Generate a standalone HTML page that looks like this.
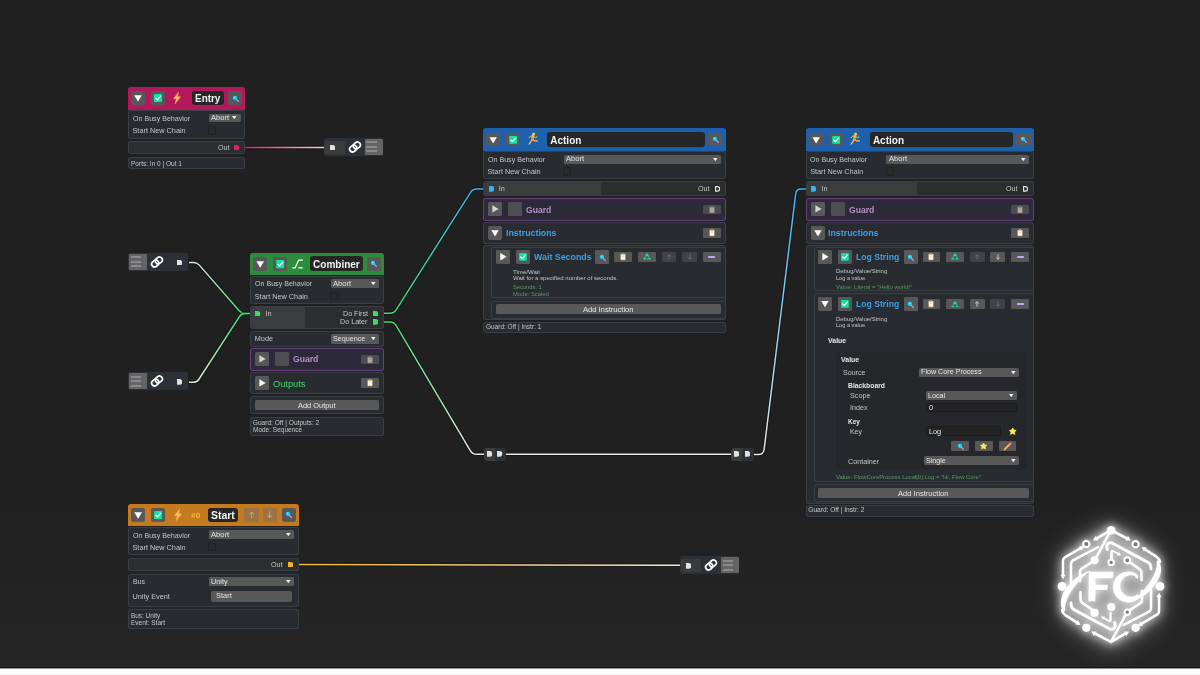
<!DOCTYPE html>
<html><head><meta charset="utf-8"><title>Flow Core Graph</title><style>html,body{margin:0;padding:0}
body{width:1200px;height:675px;overflow:hidden;position:relative;background:#202020;font-family:"Liberation Sans",sans-serif;}
div,svg{position:absolute;}
.t{white-space:nowrap;}
#stage{left:0;top:0;width:1200px;height:675px;will-change:transform;}</style></head><body><div id="stage">
<div style="left:0;top:470px;width:1200px;height:198px;background:linear-gradient(to bottom,rgba(255,255,255,0),rgba(255,255,255,0.028));"></div>
<svg style="left:0;top:0" width="1200" height="675"><defs><linearGradient id="g0" gradientUnits="userSpaceOnUse" x1="245" y1="147.5" x2="324" y2="147.5"><stop offset="0" stop-color="#e0206a"/><stop offset="1" stop-color="#f3d3df"/></linearGradient><linearGradient id="g1" gradientUnits="userSpaceOnUse" x1="189" y1="262.5" x2="250" y2="313.4"><stop offset="0" stop-color="#e4ece6"/><stop offset="1" stop-color="#3ddc6a"/></linearGradient><linearGradient id="g2" gradientUnits="userSpaceOnUse" x1="189" y1="382.2" x2="250" y2="313.4"><stop offset="0" stop-color="#e4ece6"/><stop offset="1" stop-color="#3ddc6a"/></linearGradient><linearGradient id="g3" gradientUnits="userSpaceOnUse" x1="384" y1="313.2" x2="483.2" y2="188.9"><stop offset="0" stop-color="#3ddc6a"/><stop offset="1" stop-color="#38b2f4"/></linearGradient><linearGradient id="g4" gradientUnits="userSpaceOnUse" x1="384" y1="322" x2="484" y2="454.3"><stop offset="0" stop-color="#3ddc6a"/><stop offset="1" stop-color="#e8e8e8"/></linearGradient><linearGradient id="g5" gradientUnits="userSpaceOnUse" x1="506" y1="454.35" x2="731.2" y2="454.35"><stop offset="0" stop-color="#e8e8e8"/><stop offset="1" stop-color="#e8e8e8"/></linearGradient><linearGradient id="g6" gradientUnits="userSpaceOnUse" x1="753.6" y1="454.4" x2="806" y2="188.9"><stop offset="0" stop-color="#e8e8e8"/><stop offset="1" stop-color="#38b2f4"/></linearGradient><linearGradient id="g7" gradientUnits="userSpaceOnUse" x1="299" y1="564.5" x2="680" y2="565.2"><stop offset="0" stop-color="#f2b42a"/><stop offset="1" stop-color="#f0ead8"/></linearGradient></defs><path d="M245.00 147.50 L324.00 147.50" stroke="#0d0d0d" stroke-opacity="0.55" stroke-width="3.3" fill="none"/><path d="M245.00 147.50 L324.00 147.50" stroke="url(#g0)" stroke-width="1.5" fill="none" stroke-linecap="butt"/><path d="M189.00 262.50 L193.50 262.50 Q197.00 262.50 199.30 265.13 L239.20 310.77 Q241.50 313.40 245.00 313.40 L250.00 313.40" stroke="#0d0d0d" stroke-opacity="0.55" stroke-width="3.3" fill="none"/><path d="M189.00 262.50 L193.50 262.50 Q197.00 262.50 199.30 265.13 L239.20 310.77 Q241.50 313.40 245.00 313.40 L250.00 313.40" stroke="url(#g1)" stroke-width="1.5" fill="none" stroke-linecap="butt"/><path d="M189.00 382.20 L193.50 382.20 Q197.00 382.20 198.90 379.26 L239.60 316.34 Q241.50 313.40 245.00 313.40 L250.00 313.40" stroke="#0d0d0d" stroke-opacity="0.55" stroke-width="3.3" fill="none"/><path d="M189.00 382.20 L193.50 382.20 Q197.00 382.20 198.90 379.26 L239.60 316.34 Q241.50 313.40 245.00 313.40 L250.00 313.40" stroke="url(#g2)" stroke-width="1.5" fill="none" stroke-linecap="butt"/><path d="M384.00 313.20 L390.00 313.20 Q394.00 313.20 396.14 309.82 L470.56 192.28 Q472.70 188.90 476.70 188.90 L483.20 188.90" stroke="#0d0d0d" stroke-opacity="0.55" stroke-width="3.3" fill="none"/><path d="M384.00 313.20 L390.00 313.20 Q394.00 313.20 396.14 309.82 L470.56 192.28 Q472.70 188.90 476.70 188.90 L483.20 188.90" stroke="url(#g3)" stroke-width="1.5" fill="none" stroke-linecap="butt"/><path d="M384.00 322.00 L390.00 322.00 Q394.00 322.00 396.04 325.44 L470.46 450.86 Q472.50 454.30 476.50 454.30 L484.00 454.30" stroke="#0d0d0d" stroke-opacity="0.55" stroke-width="3.3" fill="none"/><path d="M384.00 322.00 L390.00 322.00 Q394.00 322.00 396.04 325.44 L470.46 450.86 Q472.50 454.30 476.50 454.30 L484.00 454.30" stroke="url(#g4)" stroke-width="1.5" fill="none" stroke-linecap="butt"/><path d="M506.00 454.35 L731.20 454.35" stroke="#0d0d0d" stroke-opacity="0.55" stroke-width="3.3" fill="none"/><path d="M506.00 454.35 L731.20 454.35" stroke="url(#g5)" stroke-width="1.5" fill="none" stroke-linecap="butt"/><path d="M753.60 454.40 L758.55 454.40 Q763.50 454.40 764.11 449.49 L795.71 193.71 Q796.30 188.90 801.15 188.90 L806.00 188.90" stroke="#0d0d0d" stroke-opacity="0.55" stroke-width="3.3" fill="none"/><path d="M753.60 454.40 L758.55 454.40 Q763.50 454.40 764.11 449.49 L795.71 193.71 Q796.30 188.90 801.15 188.90 L806.00 188.90" stroke="url(#g6)" stroke-width="1.5" fill="none" stroke-linecap="butt"/><path d="M299.00 564.50 L680.00 565.20" stroke="#0d0d0d" stroke-opacity="0.55" stroke-width="3.3" fill="none"/><path d="M299.00 564.50 L680.00 565.20" stroke="url(#g7)" stroke-width="1.5" fill="none" stroke-linecap="butt"/></svg>
<div style="left:128.10px;top:87.00px;width:116.90px;height:22.60px;background:#b3175c;border-radius:3px 3px 0 0;"></div>
<div style="left:131.00px;top:91.25px;width:14.00px;height:14.00px;background:#585858;border-radius:2px;"></div>
<svg style="left:131.00px;top:91.25px;" width="14.00" height="14.00" viewBox="0 0 14 14"><path d="M3.2 4.2 L10.8 4.2 L7 10.6 Z" fill="#fff"/></svg>
<div style="left:151.25px;top:91.25px;width:14.00px;height:14.00px;background:#585858;border-radius:2px;"></div>
<svg style="left:151.25px;top:91.25px;" width="14.00" height="14.00" viewBox="0 0 14 14"><rect x="3" y="3" width="8" height="8" rx="0.8" fill="#10e3a2"/><path d="M4.7 7.2 L6.4 8.8 L9.4 5.2" stroke="#fff" stroke-width="1.2" fill="none" stroke-linecap="round" stroke-linejoin="round"/></svg>
<svg style="left:173.30px;top:92.20px;" width="8.00" height="12.00" viewBox="0 0 8 12"><path d="M5.6 0.2 L0.5 6.7 L3.4 6.7 L2.1 11.8 L7.6 4.8 L4.5 4.8 Z" fill="#ffbb5e" stroke="#ffbb5e" stroke-width="0.5" stroke-linejoin="round"/></svg>
<div style="left:192.25px;top:91.00px;width:31.80px;height:14.40px;background:#262626;border-radius:3px;"></div>
<div class="t" style="left:195.30px;top:91px;font-size:10px;line-height:15px;height:15px;color:#f2f2f2;font-weight:bold;transform:scaleX(0.9936);transform-origin:0 0;">Entry</div>
<div style="left:228.00px;top:91.25px;width:14.00px;height:14.00px;background:#585858;border-radius:2px;"></div>
<svg style="left:231.50px;top:94.85px;" width="7.40" height="7.40" viewBox="0 0 10 10"><path d="M5.6 5.6 L8.6 8.6" stroke="#c9a0e8" stroke-width="1.7" stroke-linecap="round"/><circle cx="4" cy="4" r="2.9" fill="#12d4ff"/><circle cx="3.3" cy="3.2" r="1" fill="#7be9ff"/></svg>
<div style="left:128.10px;top:110.00px;width:116.90px;height:28.50px;background:#282c31;box-shadow:inset 0 0 0 1px #3a3f46;border-radius:3px;"></div>
<div class="t" style="left:132.50px;top:112px;font-size:7.3px;line-height:13px;height:13px;color:#c6c6c6;transform:scaleX(0.9722);transform-origin:0 0;">On Busy Behavior</div>
<div class="t" style="left:132.50px;top:124px;font-size:7.3px;line-height:13px;height:13px;color:#c6c6c6;">Start New Chain</div>
<div style="left:208.75px;top:113.50px;width:31.85px;height:8.80px;background:#585858;border-radius:1.5px;"></div>
<div class="t" style="left:210.95px;top:111px;font-size:7.4px;line-height:13px;height:13px;color:#e6e6e6;transform:scaleX(1.0233);transform-origin:0 0;">Abort</div>
<svg style="left:232.40px;top:116.30px;" width="4.60" height="3.20" viewBox="0 0 4.6 3.2"><path d="M0 0 L4.6 0 L2.3 3.2 Z" fill="#f0f0f0"/></svg>
<div style="left:208.00px;top:126.25px;width:8.30px;height:8.30px;background:#2a2a2a;box-shadow:inset 0 0 0 1px #222;border-radius:1.5px;"></div>
<div style="left:128.10px;top:140.60px;width:116.90px;height:13.80px;background:#2b2d2f;box-shadow:inset 0 0 0 1px #3a3f46;border-radius:3px;"></div>
<div class="t" style="left:217.50px;top:141px;font-size:7.3px;line-height:13px;height:13px;color:#c6c6c6;transform:scaleX(0.9774);transform-origin:0 0;">Out</div>
<svg style="left:234.40px;top:144.75px;" width="5.30" height="5.70" viewBox="0 0 5.3 5.7"><path d="M0 0 L2.45 0 A2.85 2.85 0 0 1 2.45 5.7 L0 5.7 Z" fill="#e0206a"/></svg>
<div style="left:128.10px;top:157.00px;width:116.90px;height:12.00px;background:#282c31;box-shadow:inset 0 0 0 1px #3a3f46;border-radius:3px;"></div>
<div class="t" style="left:130.50px;top:158px;font-size:6.6px;line-height:11px;height:11px;color:#c6c6c6;transform:scaleX(0.9883);transform-origin:0 0;">Ports: In 0 | Out 1</div>
<div style="left:250.00px;top:252.50px;width:133.75px;height:22.80px;background:#2d8c3c;border-radius:3px 3px 0 0;"></div>
<div style="left:252.70px;top:256.50px;width:14.40px;height:14.20px;background:#585858;border-radius:2px;"></div>
<svg style="left:252.70px;top:256.50px;" width="14.40" height="14.20" viewBox="0 0 14 14"><path d="M3.2 4.2 L10.8 4.2 L7 10.6 Z" fill="#fff"/></svg>
<div style="left:272.80px;top:256.50px;width:14.40px;height:14.20px;background:#585858;border-radius:2px;"></div>
<svg style="left:272.80px;top:256.50px;" width="14.40" height="14.20" viewBox="0 0 14 14"><rect x="3" y="3" width="8" height="8" rx="0.8" fill="#10e3a2"/><path d="M4.7 7.2 L6.4 8.8 L9.4 5.2" stroke="#fff" stroke-width="1.2" fill="none" stroke-linecap="round" stroke-linejoin="round"/></svg>
<svg style="left:291.70px;top:258.60px;" width="11.00" height="10.00" viewBox="0 0 11 10"><path d="M0.7 8.8 L3.2 8.8 L6.6 1.2 L10.3 1.2 M6.8 8.8 L10.3 8.8" stroke="#fff" stroke-width="1.2" fill="none" stroke-linecap="round" stroke-linejoin="round"/></svg>
<div style="left:309.75px;top:256.25px;width:53.00px;height:14.40px;background:#262626;border-radius:3px;"></div>
<div class="t" style="left:313.10px;top:257px;font-size:10px;line-height:15px;height:15px;color:#f2f2f2;font-weight:bold;">Combiner</div>
<div style="left:366.50px;top:256.50px;width:14.40px;height:14.20px;background:#585858;border-radius:2px;"></div>
<svg style="left:370.20px;top:260.20px;" width="7.40" height="7.40" viewBox="0 0 10 10"><path d="M5.6 5.6 L8.6 8.6" stroke="#c9a0e8" stroke-width="1.7" stroke-linecap="round"/><circle cx="4" cy="4" r="2.9" fill="#12d4ff"/><circle cx="3.3" cy="3.2" r="1" fill="#7be9ff"/></svg>
<div style="left:250.00px;top:275.60px;width:133.75px;height:28.00px;background:#282c31;box-shadow:inset 0 0 0 1px #3a3f46;border-radius:3px;"></div>
<div class="t" style="left:254.75px;top:277px;font-size:7.3px;line-height:13px;height:13px;color:#c6c6c6;transform:scaleX(0.9722);transform-origin:0 0;">On Busy Behavior</div>
<div class="t" style="left:254.75px;top:290px;font-size:7.3px;line-height:13px;height:13px;color:#c6c6c6;">Start New Chain</div>
<div style="left:330.60px;top:278.90px;width:48.80px;height:8.80px;background:#585858;border-radius:1.5px;"></div>
<div class="t" style="left:332.80px;top:277px;font-size:7.4px;line-height:13px;height:13px;color:#e6e6e6;transform:scaleX(1.0233);transform-origin:0 0;">Abort</div>
<svg style="left:371.20px;top:281.70px;" width="4.60" height="3.20" viewBox="0 0 4.6 3.2"><path d="M0 0 L4.6 0 L2.3 3.2 Z" fill="#f0f0f0"/></svg>
<div style="left:330.25px;top:292.00px;width:8.30px;height:8.30px;background:#2a2a2a;box-shadow:inset 0 0 0 1px #222;border-radius:1.5px;"></div>
<div style="left:250.00px;top:306.00px;width:133.75px;height:23.00px;background:#2b2d2f;box-shadow:inset 0 0 0 1px #3a3f46;border-radius:3px;"></div>
<div style="left:250.80px;top:306.80px;width:54.50px;height:21.40px;background:#3a3c3d;border-radius:2px 0 0 2px;"></div>
<svg style="left:255.25px;top:310.55px;" width="5.30" height="5.70" viewBox="0 0 5.3 5.7"><path d="M0 0 L2.45 0 A2.85 2.85 0 0 1 2.45 5.7 L0 5.7 Z" fill="#3ddc6a"/></svg>
<div class="t" style="left:265.60px;top:307px;font-size:7.3px;line-height:13px;height:13px;color:#c6c6c6;">In</div>
<div class="t" style="left:342.50px;top:307px;font-size:7.3px;line-height:13px;height:13px;color:#c6c6c6;transform:scaleX(0.9785);transform-origin:0 0;">Do First</div>
<svg style="left:373.00px;top:310.55px;" width="5.30" height="5.70" viewBox="0 0 5.3 5.7"><path d="M0 0 L2.45 0 A2.85 2.85 0 0 1 2.45 5.7 L0 5.7 Z" fill="#3ddc6a"/></svg>
<div class="t" style="left:340.00px;top:315px;font-size:7.3px;line-height:13px;height:13px;color:#c6c6c6;transform:scaleX(0.9822);transform-origin:0 0;">Do Later</div>
<svg style="left:373.00px;top:319.15px;" width="5.30" height="5.70" viewBox="0 0 5.3 5.7"><path d="M0 0 L2.45 0 A2.85 2.85 0 0 1 2.45 5.7 L0 5.7 Z" fill="#3ddc6a"/></svg>
<div style="left:250.00px;top:331.25px;width:133.75px;height:15.70px;background:#282c31;box-shadow:inset 0 0 0 1px #3a3f46;border-radius:3px;"></div>
<div class="t" style="left:254.75px;top:332px;font-size:7.3px;line-height:13px;height:13px;color:#c6c6c6;">Mode</div>
<div style="left:330.60px;top:334.40px;width:48.80px;height:9.30px;background:#585858;border-radius:1.5px;"></div>
<div class="t" style="left:332.80px;top:332px;font-size:7.4px;line-height:13px;height:13px;color:#e6e6e6;transform:scaleX(0.9691);transform-origin:0 0;">Sequence</div>
<svg style="left:371.20px;top:337.45px;" width="4.60" height="3.20" viewBox="0 0 4.6 3.2"><path d="M0 0 L4.6 0 L2.3 3.2 Z" fill="#f0f0f0"/></svg>
<div style="left:250.00px;top:348.00px;width:133.75px;height:22.60px;background:#2c2938;box-shadow:inset 0 0 0 1px #6a3f80;border-radius:3px;"></div>
<div style="left:255.00px;top:352.30px;width:14.00px;height:13.75px;background:#585858;border-radius:1.5px;"></div>
<svg style="left:255.00px;top:352.30px;" width="14.00" height="13.75" viewBox="0 0 14 14"><path d="M4.3 3.2 L10.8 7 L4.3 10.8 Z" fill="#fff" opacity="0.75"/></svg>
<div style="left:275.00px;top:352.30px;width:14.00px;height:13.75px;background:#4e4e52;border-radius:1px;"></div>
<div class="t" style="left:292.75px;top:352px;font-size:9.2px;line-height:14px;height:14px;color:#b78fc6;font-weight:bold;transform:scaleX(0.9375);transform-origin:0 0;">Guard</div>
<div style="left:361.25px;top:354.50px;width:17.60px;height:9.70px;background:#4b4b52;border-radius:1.3px;"></div>
<svg style="left:367.05px;top:355.65px;" width="6.00" height="7.40" viewBox="0 0 6 7.4"><g opacity="0.55"><rect x="0.3" y="0.7" width="5.4" height="6.5" rx="0.6" fill="#c39a64"/><rect x="0.9" y="1.5" width="4.2" height="5.2" fill="#fdf6e6"/><rect x="1.9" y="0.1" width="2.2" height="1.6" rx="0.5" fill="#9aa4b0"/><rect x="1.8" y="2.9" width="2.4" height="0.7" fill="#c9cfe0"/></g></svg>
<div style="left:250.00px;top:372.00px;width:133.75px;height:21.50px;background:#282c31;box-shadow:inset 0 0 0 1px #3a3f46;border-radius:3px;"></div>
<div style="left:255.00px;top:376.25px;width:14.00px;height:13.75px;background:#585858;border-radius:1.5px;"></div>
<svg style="left:255.00px;top:376.25px;" width="14.00" height="13.75" viewBox="0 0 14 14"><path d="M4.3 3.2 L10.8 7 L4.3 10.8 Z" fill="#fff" opacity="1"/></svg>
<div class="t" style="left:272.75px;top:377px;font-size:9.2px;line-height:14px;height:14px;color:#3ddc6a;transform:scaleX(1.0088);transform-origin:0 0;">Outputs</div>
<div style="left:361.25px;top:378.40px;width:17.75px;height:9.50px;background:#585858;border-radius:1.3px;"></div>
<svg style="left:367.12px;top:379.45px;" width="6.00" height="7.40" viewBox="0 0 6 7.4"><g opacity="1"><rect x="0.3" y="0.7" width="5.4" height="6.5" rx="0.6" fill="#c39a64"/><rect x="0.9" y="1.5" width="4.2" height="5.2" fill="#fdf6e6"/><rect x="1.9" y="0.1" width="2.2" height="1.6" rx="0.5" fill="#9aa4b0"/><rect x="1.8" y="2.9" width="2.4" height="0.7" fill="#c9cfe0"/></g></svg>
<div style="left:250.00px;top:396.00px;width:133.75px;height:18.40px;background:#282c31;box-shadow:inset 0 0 0 1px #3a3f46;border-radius:3px;"></div>
<div style="left:255.00px;top:400.00px;width:124.00px;height:9.80px;background:#585858;border-radius:1.5px;"></div>
<div class="t" style="left:298.25px;top:399px;font-size:7.3px;line-height:13px;height:13px;color:#e6e6e6;transform:scaleX(1.0154);transform-origin:0 0;">Add Output</div>
<div style="left:250.00px;top:417.00px;width:133.75px;height:19.20px;background:#282c31;box-shadow:inset 0 0 0 1px #3a3f46;border-radius:3px;"></div>
<div class="t" style="left:252.75px;top:417px;font-size:6.6px;line-height:11px;height:11px;color:#c6c6c6;">Guard: Off | Outputs: 2</div>
<div class="t" style="left:252.75px;top:424px;font-size:6.6px;line-height:11px;height:11px;color:#c6c6c6;transform:scaleX(0.9839);transform-origin:0 0;">Mode: Sequence</div>
<div style="left:483.10px;top:128.10px;width:242.50px;height:22.70px;background:#1f60ad;border-radius:3px 3px 0 0;"></div>
<div style="left:486.00px;top:132.50px;width:14.30px;height:13.80px;background:#585858;border-radius:2px;"></div>
<svg style="left:486.00px;top:132.50px;" width="14.30" height="13.80" viewBox="0 0 14 14"><path d="M3.2 4.2 L10.8 4.2 L7 10.6 Z" fill="#fff"/></svg>
<div style="left:506.00px;top:132.50px;width:14.30px;height:13.80px;background:#585858;border-radius:2px;"></div>
<svg style="left:506.00px;top:132.50px;" width="14.30" height="13.80" viewBox="0 0 14 14"><rect x="3" y="3" width="8" height="8" rx="0.8" fill="#10e3a2"/><path d="M4.7 7.2 L6.4 8.8 L9.4 5.2" stroke="#fff" stroke-width="1.2" fill="none" stroke-linecap="round" stroke-linejoin="round"/></svg>
<svg style="left:526.60px;top:132.40px;" width="12.00" height="14.00" viewBox="0 0 12 14"><circle cx="6.6" cy="1.9" r="1.5" fill="#ffc83d"/>
<path d="M6.2 3.6 L5.1 7.4" stroke="#ffb13b" stroke-width="2.2" stroke-linecap="round"/>
<path d="M6 4 L3.4 4.2 L2.2 5.6 M6.3 4.2 L8.4 5.6 L9.8 5" stroke="#ffc83d" stroke-width="1" fill="none" stroke-linecap="round" stroke-linejoin="round"/>
<path d="M5.2 7.4 L3.9 9.6 L2.2 12.2 M5.3 7.4 L7.6 8.8 L10.4 8.9" stroke="#ffc83d" stroke-width="1.2" fill="none" stroke-linecap="round" stroke-linejoin="round"/>
<path d="M5 6.6 L5.8 8" stroke="#f08a5d" stroke-width="2" stroke-linecap="round"/></svg>
<div style="left:547.25px;top:132.25px;width:157.50px;height:14.30px;background:#262626;border-radius:3px;"></div>
<div class="t" style="left:550.25px;top:133px;font-size:10px;line-height:15px;height:15px;color:#f2f2f2;font-weight:bold;">Action</div>
<div style="left:708.00px;top:132.50px;width:14.40px;height:13.80px;background:#585858;border-radius:2px;"></div>
<svg style="left:711.70px;top:136.00px;" width="7.40" height="7.40" viewBox="0 0 10 10"><path d="M5.6 5.6 L8.6 8.6" stroke="#c9a0e8" stroke-width="1.7" stroke-linecap="round"/><circle cx="4" cy="4" r="2.9" fill="#12d4ff"/><circle cx="3.3" cy="3.2" r="1" fill="#7be9ff"/></svg>
<div style="left:483.10px;top:151.25px;width:242.50px;height:28.20px;background:#282c31;box-shadow:inset 0 0 0 1px #3a3f46;border-radius:3px;"></div>
<div class="t" style="left:487.50px;top:153px;font-size:7.3px;line-height:13px;height:13px;color:#c6c6c6;transform:scaleX(0.9722);transform-origin:0 0;">On Busy Behavior</div>
<div class="t" style="left:487.50px;top:165px;font-size:7.3px;line-height:13px;height:13px;color:#c6c6c6;">Start New Chain</div>
<div style="left:563.75px;top:154.75px;width:157.50px;height:8.80px;background:#585858;border-radius:1.5px;"></div>
<div class="t" style="left:565.95px;top:152px;font-size:7.4px;line-height:13px;height:13px;color:#e6e6e6;transform:scaleX(1.0233);transform-origin:0 0;">Abort</div>
<svg style="left:713.05px;top:157.55px;" width="4.60" height="3.20" viewBox="0 0 4.6 3.2"><path d="M0 0 L4.6 0 L2.3 3.2 Z" fill="#f0f0f0"/></svg>
<div style="left:563.00px;top:167.25px;width:8.30px;height:8.30px;background:#2a2a2a;box-shadow:inset 0 0 0 1px #222;border-radius:1.5px;"></div>
<div style="left:483.10px;top:181.25px;width:242.50px;height:14.80px;background:#2b2d2f;box-shadow:inset 0 0 0 1px #3a3f46;border-radius:3px;"></div>
<div style="left:483.90px;top:182.00px;width:117.35px;height:13.30px;background:#3a3c3d;border-radius:2px 0 0 2px;"></div>
<svg style="left:488.50px;top:185.90px;" width="5.30" height="5.70" viewBox="0 0 5.3 5.7"><path d="M0 0 L2.45 0 A2.85 2.85 0 0 1 2.45 5.7 L0 5.7 Z" fill="#38b2f4"/></svg>
<div class="t" style="left:498.75px;top:182px;font-size:7.3px;line-height:13px;height:13px;color:#c6c6c6;">In</div>
<div class="t" style="left:697.90px;top:182px;font-size:7.3px;line-height:13px;height:13px;color:#c6c6c6;transform:scaleX(0.9774);transform-origin:0 0;">Out</div>
<svg style="left:715.00px;top:185.90px;" width="5.30" height="5.70" viewBox="0 0 5.3 5.7"><path d="M0.6 0.6 L2.45 0.6 A2.25 2.25 0 0 1 2.45 5.10 L0.6 5.10 Z" fill="none" stroke="#e8e8e8" stroke-width="1.15"/></svg>
<div style="left:483.10px;top:198.10px;width:242.50px;height:22.50px;background:#2c2938;box-shadow:inset 0 0 0 1px #6a3f80;border-radius:3px;"></div>
<div style="left:488.10px;top:202.40px;width:14.00px;height:13.75px;background:#585858;border-radius:1.5px;"></div>
<svg style="left:488.10px;top:202.40px;" width="14.00" height="13.75" viewBox="0 0 14 14"><path d="M4.3 3.2 L10.8 7 L4.3 10.8 Z" fill="#fff" opacity="0.75"/></svg>
<div style="left:508.10px;top:202.40px;width:14.00px;height:13.75px;background:#4e4e52;border-radius:1px;"></div>
<div class="t" style="left:526.00px;top:203px;font-size:9.2px;line-height:14px;height:14px;color:#b78fc6;font-weight:bold;transform:scaleX(0.9375);transform-origin:0 0;">Guard</div>
<div style="left:703.10px;top:204.60px;width:17.60px;height:9.70px;background:#4b4b52;border-radius:1.3px;"></div>
<svg style="left:708.90px;top:205.75px;" width="6.00" height="7.40" viewBox="0 0 6 7.4"><g opacity="0.55"><rect x="0.3" y="0.7" width="5.4" height="6.5" rx="0.6" fill="#c39a64"/><rect x="0.9" y="1.5" width="4.2" height="5.2" fill="#fdf6e6"/><rect x="1.9" y="0.1" width="2.2" height="1.6" rx="0.5" fill="#9aa4b0"/><rect x="1.8" y="2.9" width="2.4" height="0.7" fill="#c9cfe0"/></g></svg>
<div style="left:483.10px;top:222.25px;width:242.50px;height:21.50px;background:#282c31;box-shadow:inset 0 0 0 1px #3a3f46;border-radius:3px;"></div>
<div style="left:488.00px;top:226.25px;width:14.00px;height:13.75px;background:#585858;border-radius:2px;"></div>
<svg style="left:488.00px;top:226.25px;" width="14.00" height="13.75" viewBox="0 0 14 14"><path d="M3.2 4.2 L10.8 4.2 L7 10.6 Z" fill="#fff"/></svg>
<div class="t" style="left:505.60px;top:226px;font-size:9.2px;line-height:14px;height:14px;color:#3d9fe6;font-weight:bold;transform:scaleX(0.9611);transform-origin:0 0;">Instructions</div>
<div style="left:703.10px;top:228.20px;width:17.60px;height:9.80px;background:#585858;border-radius:1.3px;"></div>
<svg style="left:708.90px;top:229.40px;" width="6.00" height="7.40" viewBox="0 0 6 7.4"><g opacity="1"><rect x="0.3" y="0.7" width="5.4" height="6.5" rx="0.6" fill="#c39a64"/><rect x="0.9" y="1.5" width="4.2" height="5.2" fill="#fdf6e6"/><rect x="1.9" y="0.1" width="2.2" height="1.6" rx="0.5" fill="#9aa4b0"/><rect x="1.8" y="2.9" width="2.4" height="0.7" fill="#c9cfe0"/></g></svg>
<div style="left:483.10px;top:244.60px;width:242.50px;height:75.60px;background:#282c31;box-shadow:inset 0 0 0 1px #3a3f46;border-radius:3px;"></div>
<div style="left:491.25px;top:246.90px;width:234.35px;height:51.10px;background:#282c31;box-shadow:inset 0 0 0 1px #3a3f46;border-radius:3px;"></div>
<div style="left:495.65px;top:250.25px;width:13.90px;height:13.60px;background:#585858;border-radius:1.3px;"></div>
<svg style="left:495.65px;top:250.25px;" width="13.90" height="13.60" viewBox="0 0 14 14"><path d="M4.3 3.2 L10.8 7 L4.3 10.8 Z" fill="#fff" opacity="1"/></svg>
<div style="left:515.75px;top:250.25px;width:13.90px;height:13.60px;background:#585858;border-radius:1.3px;"></div>
<svg style="left:515.75px;top:250.25px;" width="13.90" height="13.60" viewBox="0 0 14 14"><rect x="3" y="3" width="8" height="8" rx="0.8" fill="#10e3a2"/><path d="M4.7 7.2 L6.4 8.8 L9.4 5.2" stroke="#fff" stroke-width="1.2" fill="none" stroke-linecap="round" stroke-linejoin="round"/></svg>
<div class="t" style="left:533.50px;top:250px;font-size:9.2px;line-height:14px;height:14px;color:#3d9fe6;font-weight:bold;transform:scaleX(0.9628);transform-origin:0 0;">Wait Seconds</div>
<div style="left:595.40px;top:250.25px;width:14.00px;height:13.60px;background:#585858;border-radius:1.3px;"></div>
<svg style="left:598.90px;top:253.65px;" width="7.40" height="7.40" viewBox="0 0 10 10"><path d="M5.6 5.6 L8.6 8.6" stroke="#c9a0e8" stroke-width="1.7" stroke-linecap="round"/><circle cx="4" cy="4" r="2.9" fill="#12d4ff"/><circle cx="3.3" cy="3.2" r="1" fill="#7be9ff"/></svg>
<div style="left:614.40px;top:252.10px;width:17.50px;height:9.80px;background:#585858;border-radius:1.3px;"></div>
<svg style="left:620.15px;top:253.30px;" width="6.00" height="7.40" viewBox="0 0 6 7.4"><g opacity="1"><rect x="0.3" y="0.7" width="5.4" height="6.5" rx="0.6" fill="#c39a64"/><rect x="0.9" y="1.5" width="4.2" height="5.2" fill="#fdf6e6"/><rect x="1.9" y="0.1" width="2.2" height="1.6" rx="0.5" fill="#9aa4b0"/><rect x="1.8" y="2.9" width="2.4" height="0.7" fill="#c9cfe0"/></g></svg>
<div style="left:638.10px;top:252.10px;width:17.80px;height:9.80px;background:#585858;border-radius:1.3px;"></div>
<svg style="left:643.00px;top:253.40px;" width="8.00" height="6.80" viewBox="0 0 8 6.8"><g fill="none" stroke="#10e3a2" stroke-width="1.25" stroke-linejoin="round"><path d="M2.35 3.6 L4 0.9 L5.65 3.6"/><path d="M6.2 4.5 L7.1 6 L4.55 6"/><path d="M3.45 6 L0.9 6 L1.8 4.5"/></g></svg>
<div style="left:661.90px;top:252.10px;width:14.50px;height:9.80px;background:#404346;border-radius:1.3px;"></div>
<svg style="left:666.15px;top:254.00px;" width="6.00" height="6.00" viewBox="0 0 6 6"><path d="M3 5.7 L3 0.8 M1.2 2.6 L3 0.7 L4.8 2.6" stroke="#77797c" stroke-width="0.75" fill="none" stroke-linejoin="round"/></svg>
<div style="left:682.30px;top:252.10px;width:14.50px;height:9.80px;background:#404346;border-radius:1.3px;"></div>
<svg style="left:686.55px;top:254.00px;" width="6.00" height="6.00" viewBox="0 0 6 6"><path d="M3 0.3 L3 5.2 M1.2 3.4 L3 5.3 L4.8 3.4" stroke="#77797c" stroke-width="0.75" fill="none" stroke-linejoin="round"/></svg>
<div style="left:703.10px;top:252.10px;width:17.50px;height:9.80px;background:#585858;border-radius:1.3px;"></div>
<div style="left:708.35px;top:256.30px;width:7.00px;height:1.40px;background:#bcabf0;border-radius:0.4px;"></div>
<div class="t" style="left:513.10px;top:267px;font-size:5.8px;line-height:10px;height:10px;color:#c6c6c6;transform:scaleX(1.0479);transform-origin:0 0;">Time/Wait</div>
<div class="t" style="left:513.10px;top:273px;font-size:5.8px;line-height:10px;height:10px;color:#c6c6c6;transform:scaleX(1.0329);transform-origin:0 0;">Wait for a specified number of seconds.</div>
<div class="t" style="left:513.10px;top:282px;font-size:5.8px;line-height:10px;height:10px;color:#5a9a62;transform:scaleX(0.9907);transform-origin:0 0;">Seconds: 1</div>
<div class="t" style="left:513.10px;top:289px;font-size:5.8px;line-height:10px;height:10px;color:#5a9a62;transform:scaleX(1.0122);transform-origin:0 0;">Mode: Scaled</div>
<div style="left:491.25px;top:300.60px;width:234.35px;height:18.20px;background:#282c31;box-shadow:inset 0 0 0 1px #3a3f46;border-radius:3px;"></div>
<div style="left:495.60px;top:304.40px;width:225.00px;height:9.70px;background:#585858;border-radius:1.5px;"></div>
<div class="t" style="left:582.85px;top:303px;font-size:7.3px;line-height:13px;height:13px;color:#e6e6e6;transform:scaleX(1.0371);transform-origin:0 0;">Add Instruction</div>
<div style="left:483.10px;top:322.00px;width:242.50px;height:10.60px;background:#282c31;box-shadow:inset 0 0 0 1px #3a3f46;border-radius:3px;"></div>
<div class="t" style="left:486.00px;top:321px;font-size:6.6px;line-height:11px;height:11px;color:#c6c6c6;transform:scaleX(0.9823);transform-origin:0 0;">Guard: Off | Instr: 1</div>
<div style="left:805.75px;top:128.10px;width:228.00px;height:22.70px;background:#1f60ad;border-radius:3px 3px 0 0;"></div>
<div style="left:808.65px;top:132.50px;width:14.30px;height:13.80px;background:#585858;border-radius:2px;"></div>
<svg style="left:808.65px;top:132.50px;" width="14.30" height="13.80" viewBox="0 0 14 14"><path d="M3.2 4.2 L10.8 4.2 L7 10.6 Z" fill="#fff"/></svg>
<div style="left:828.65px;top:132.50px;width:14.30px;height:13.80px;background:#585858;border-radius:2px;"></div>
<svg style="left:828.65px;top:132.50px;" width="14.30" height="13.80" viewBox="0 0 14 14"><rect x="3" y="3" width="8" height="8" rx="0.8" fill="#10e3a2"/><path d="M4.7 7.2 L6.4 8.8 L9.4 5.2" stroke="#fff" stroke-width="1.2" fill="none" stroke-linecap="round" stroke-linejoin="round"/></svg>
<svg style="left:849.25px;top:132.40px;" width="12.00" height="14.00" viewBox="0 0 12 14"><circle cx="6.6" cy="1.9" r="1.5" fill="#ffc83d"/>
<path d="M6.2 3.6 L5.1 7.4" stroke="#ffb13b" stroke-width="2.2" stroke-linecap="round"/>
<path d="M6 4 L3.4 4.2 L2.2 5.6 M6.3 4.2 L8.4 5.6 L9.8 5" stroke="#ffc83d" stroke-width="1" fill="none" stroke-linecap="round" stroke-linejoin="round"/>
<path d="M5.2 7.4 L3.9 9.6 L2.2 12.2 M5.3 7.4 L7.6 8.8 L10.4 8.9" stroke="#ffc83d" stroke-width="1.2" fill="none" stroke-linecap="round" stroke-linejoin="round"/>
<path d="M5 6.6 L5.8 8" stroke="#f08a5d" stroke-width="2" stroke-linecap="round"/></svg>
<div style="left:869.90px;top:132.25px;width:143.00px;height:14.30px;background:#262626;border-radius:3px;"></div>
<div class="t" style="left:872.90px;top:133px;font-size:10px;line-height:15px;height:15px;color:#f2f2f2;font-weight:bold;">Action</div>
<div style="left:1016.15px;top:132.50px;width:14.40px;height:13.80px;background:#585858;border-radius:2px;"></div>
<svg style="left:1019.85px;top:136.00px;" width="7.40" height="7.40" viewBox="0 0 10 10"><path d="M5.6 5.6 L8.6 8.6" stroke="#c9a0e8" stroke-width="1.7" stroke-linecap="round"/><circle cx="4" cy="4" r="2.9" fill="#12d4ff"/><circle cx="3.3" cy="3.2" r="1" fill="#7be9ff"/></svg>
<div style="left:805.75px;top:151.25px;width:228.00px;height:28.20px;background:#282c31;box-shadow:inset 0 0 0 1px #3a3f46;border-radius:3px;"></div>
<div class="t" style="left:810.15px;top:153px;font-size:7.3px;line-height:13px;height:13px;color:#c6c6c6;transform:scaleX(0.9722);transform-origin:0 0;">On Busy Behavior</div>
<div class="t" style="left:810.15px;top:165px;font-size:7.3px;line-height:13px;height:13px;color:#c6c6c6;">Start New Chain</div>
<div style="left:886.40px;top:154.75px;width:143.00px;height:8.80px;background:#585858;border-radius:1.5px;"></div>
<div class="t" style="left:888.60px;top:152px;font-size:7.4px;line-height:13px;height:13px;color:#e6e6e6;transform:scaleX(1.0233);transform-origin:0 0;">Abort</div>
<svg style="left:1021.20px;top:157.55px;" width="4.60" height="3.20" viewBox="0 0 4.6 3.2"><path d="M0 0 L4.6 0 L2.3 3.2 Z" fill="#f0f0f0"/></svg>
<div style="left:885.65px;top:167.25px;width:8.30px;height:8.30px;background:#2a2a2a;box-shadow:inset 0 0 0 1px #222;border-radius:1.5px;"></div>
<div style="left:805.75px;top:181.25px;width:228.00px;height:14.80px;background:#2b2d2f;box-shadow:inset 0 0 0 1px #3a3f46;border-radius:3px;"></div>
<div style="left:806.55px;top:182.00px;width:110.35px;height:13.30px;background:#3a3c3d;border-radius:2px 0 0 2px;"></div>
<svg style="left:811.15px;top:185.90px;" width="5.30" height="5.70" viewBox="0 0 5.3 5.7"><path d="M0 0 L2.45 0 A2.85 2.85 0 0 1 2.45 5.7 L0 5.7 Z" fill="#38b2f4"/></svg>
<div class="t" style="left:821.40px;top:182px;font-size:7.3px;line-height:13px;height:13px;color:#c6c6c6;">In</div>
<div class="t" style="left:1006.05px;top:182px;font-size:7.3px;line-height:13px;height:13px;color:#c6c6c6;transform:scaleX(0.9774);transform-origin:0 0;">Out</div>
<svg style="left:1023.15px;top:185.90px;" width="5.30" height="5.70" viewBox="0 0 5.3 5.7"><path d="M0.6 0.6 L2.45 0.6 A2.25 2.25 0 0 1 2.45 5.10 L0.6 5.10 Z" fill="none" stroke="#e8e8e8" stroke-width="1.15"/></svg>
<div style="left:805.75px;top:198.10px;width:228.00px;height:22.50px;background:#2c2938;box-shadow:inset 0 0 0 1px #6a3f80;border-radius:3px;"></div>
<div style="left:810.75px;top:202.40px;width:14.00px;height:13.75px;background:#585858;border-radius:1.5px;"></div>
<svg style="left:810.75px;top:202.40px;" width="14.00" height="13.75" viewBox="0 0 14 14"><path d="M4.3 3.2 L10.8 7 L4.3 10.8 Z" fill="#fff" opacity="0.75"/></svg>
<div style="left:830.75px;top:202.40px;width:14.00px;height:13.75px;background:#4e4e52;border-radius:1px;"></div>
<div class="t" style="left:848.60px;top:203px;font-size:9.2px;line-height:14px;height:14px;color:#b78fc6;font-weight:bold;transform:scaleX(0.9375);transform-origin:0 0;">Guard</div>
<div style="left:1011.25px;top:204.60px;width:17.60px;height:9.70px;background:#4b4b52;border-radius:1.3px;"></div>
<svg style="left:1017.05px;top:205.75px;" width="6.00" height="7.40" viewBox="0 0 6 7.4"><g opacity="0.55"><rect x="0.3" y="0.7" width="5.4" height="6.5" rx="0.6" fill="#c39a64"/><rect x="0.9" y="1.5" width="4.2" height="5.2" fill="#fdf6e6"/><rect x="1.9" y="0.1" width="2.2" height="1.6" rx="0.5" fill="#9aa4b0"/><rect x="1.8" y="2.9" width="2.4" height="0.7" fill="#c9cfe0"/></g></svg>
<div style="left:805.75px;top:222.25px;width:228.00px;height:21.50px;background:#282c31;box-shadow:inset 0 0 0 1px #3a3f46;border-radius:3px;"></div>
<div style="left:810.65px;top:226.25px;width:14.00px;height:13.75px;background:#585858;border-radius:2px;"></div>
<svg style="left:810.65px;top:226.25px;" width="14.00" height="13.75" viewBox="0 0 14 14"><path d="M3.2 4.2 L10.8 4.2 L7 10.6 Z" fill="#fff"/></svg>
<div class="t" style="left:828.25px;top:226px;font-size:9.2px;line-height:14px;height:14px;color:#3d9fe6;font-weight:bold;transform:scaleX(0.9611);transform-origin:0 0;">Instructions</div>
<div style="left:1011.25px;top:228.20px;width:17.60px;height:9.80px;background:#585858;border-radius:1.3px;"></div>
<svg style="left:1017.05px;top:229.40px;" width="6.00" height="7.40" viewBox="0 0 6 7.4"><g opacity="1"><rect x="0.3" y="0.7" width="5.4" height="6.5" rx="0.6" fill="#c39a64"/><rect x="0.9" y="1.5" width="4.2" height="5.2" fill="#fdf6e6"/><rect x="1.9" y="0.1" width="2.2" height="1.6" rx="0.5" fill="#9aa4b0"/><rect x="1.8" y="2.9" width="2.4" height="0.7" fill="#c9cfe0"/></g></svg>
<div style="left:805.75px;top:244.60px;width:228.00px;height:259.40px;background:#282c31;box-shadow:inset 0 0 0 1px #3a3f46;border-radius:3px;"></div>
<div style="left:813.60px;top:246.90px;width:220.15px;height:43.70px;background:#282c31;box-shadow:inset 0 0 0 1px #3a3f46;border-radius:3px;"></div>
<div style="left:818.00px;top:250.10px;width:13.90px;height:13.60px;background:#585858;border-radius:1.3px;"></div>
<svg style="left:818.00px;top:250.10px;" width="13.90" height="13.60" viewBox="0 0 14 14"><path d="M4.3 3.2 L10.8 7 L4.3 10.8 Z" fill="#fff" opacity="1"/></svg>
<div style="left:838.10px;top:250.10px;width:13.90px;height:13.60px;background:#585858;border-radius:1.3px;"></div>
<svg style="left:838.10px;top:250.10px;" width="13.90" height="13.60" viewBox="0 0 14 14"><rect x="3" y="3" width="8" height="8" rx="0.8" fill="#10e3a2"/><path d="M4.7 7.2 L6.4 8.8 L9.4 5.2" stroke="#fff" stroke-width="1.2" fill="none" stroke-linecap="round" stroke-linejoin="round"/></svg>
<div class="t" style="left:855.75px;top:250px;font-size:9.2px;line-height:14px;height:14px;color:#3d9fe6;font-weight:bold;transform:scaleX(0.9404);transform-origin:0 0;">Log String</div>
<div style="left:903.55px;top:250.10px;width:14.00px;height:13.60px;background:#585858;border-radius:1.3px;"></div>
<svg style="left:907.05px;top:253.50px;" width="7.40" height="7.40" viewBox="0 0 10 10"><path d="M5.6 5.6 L8.6 8.6" stroke="#c9a0e8" stroke-width="1.7" stroke-linecap="round"/><circle cx="4" cy="4" r="2.9" fill="#12d4ff"/><circle cx="3.3" cy="3.2" r="1" fill="#7be9ff"/></svg>
<div style="left:922.55px;top:251.95px;width:17.50px;height:9.80px;background:#585858;border-radius:1.3px;"></div>
<svg style="left:928.30px;top:253.15px;" width="6.00" height="7.40" viewBox="0 0 6 7.4"><g opacity="1"><rect x="0.3" y="0.7" width="5.4" height="6.5" rx="0.6" fill="#c39a64"/><rect x="0.9" y="1.5" width="4.2" height="5.2" fill="#fdf6e6"/><rect x="1.9" y="0.1" width="2.2" height="1.6" rx="0.5" fill="#9aa4b0"/><rect x="1.8" y="2.9" width="2.4" height="0.7" fill="#c9cfe0"/></g></svg>
<div style="left:946.25px;top:251.95px;width:17.80px;height:9.80px;background:#585858;border-radius:1.3px;"></div>
<svg style="left:951.15px;top:253.25px;" width="8.00" height="6.80" viewBox="0 0 8 6.8"><g fill="none" stroke="#10e3a2" stroke-width="1.25" stroke-linejoin="round"><path d="M2.35 3.6 L4 0.9 L5.65 3.6"/><path d="M6.2 4.5 L7.1 6 L4.55 6"/><path d="M3.45 6 L0.9 6 L1.8 4.5"/></g></svg>
<div style="left:970.05px;top:251.95px;width:14.50px;height:9.80px;background:#404346;border-radius:1.3px;"></div>
<svg style="left:974.30px;top:253.85px;" width="6.00" height="6.00" viewBox="0 0 6 6"><path d="M3 5.7 L3 0.8 M1.2 2.6 L3 0.7 L4.8 2.6" stroke="#77797c" stroke-width="0.75" fill="none" stroke-linejoin="round"/></svg>
<div style="left:990.45px;top:251.95px;width:14.50px;height:9.80px;background:#585858;border-radius:1.3px;"></div>
<svg style="left:994.70px;top:253.85px;" width="6.00" height="6.00" viewBox="0 0 6 6"><path d="M3 0.3 L3 5.2 M1.2 3.4 L3 5.3 L4.8 3.4" stroke="#e8e8e8" stroke-width="0.75" fill="none" stroke-linejoin="round"/></svg>
<div style="left:1011.25px;top:251.95px;width:17.50px;height:9.80px;background:#585858;border-radius:1.3px;"></div>
<div style="left:1016.50px;top:256.15px;width:7.00px;height:1.40px;background:#bcabf0;border-radius:0.4px;"></div>
<div class="t" style="left:836.00px;top:266px;font-size:5.8px;line-height:10px;height:10px;color:#c6c6c6;transform:scaleX(1.0277);transform-origin:0 0;">Debug/Value/String</div>
<div class="t" style="left:836.00px;top:273px;font-size:5.8px;line-height:10px;height:10px;color:#c6c6c6;transform:scaleX(0.9683);transform-origin:0 0;">Log a value.</div>
<div class="t" style="left:836.00px;top:282px;font-size:5.8px;line-height:10px;height:10px;color:#5a9a62;transform:scaleX(1.0261);transform-origin:0 0;">Value: Literal = &quot;Hello world!&quot;</div>
<div style="left:813.60px;top:293.10px;width:220.15px;height:189.00px;background:#282c31;box-shadow:inset 0 0 0 1px #3a3f46;border-radius:3px;"></div>
<div style="left:818.00px;top:297.40px;width:13.90px;height:13.60px;background:#585858;border-radius:1.3px;"></div>
<svg style="left:818.00px;top:297.40px;" width="13.90" height="13.60" viewBox="0 0 14 14"><path d="M3.2 4.2 L10.8 4.2 L7 10.6 Z" fill="#fff"/></svg>
<div style="left:838.10px;top:297.40px;width:13.90px;height:13.60px;background:#585858;border-radius:1.3px;"></div>
<svg style="left:838.10px;top:297.40px;" width="13.90" height="13.60" viewBox="0 0 14 14"><rect x="3" y="3" width="8" height="8" rx="0.8" fill="#10e3a2"/><path d="M4.7 7.2 L6.4 8.8 L9.4 5.2" stroke="#fff" stroke-width="1.2" fill="none" stroke-linecap="round" stroke-linejoin="round"/></svg>
<div class="t" style="left:855.75px;top:297px;font-size:9.2px;line-height:14px;height:14px;color:#3d9fe6;font-weight:bold;transform:scaleX(0.9404);transform-origin:0 0;">Log String</div>
<div style="left:903.55px;top:297.40px;width:14.00px;height:13.60px;background:#585858;border-radius:1.3px;"></div>
<svg style="left:907.05px;top:300.80px;" width="7.40" height="7.40" viewBox="0 0 10 10"><path d="M5.6 5.6 L8.6 8.6" stroke="#c9a0e8" stroke-width="1.7" stroke-linecap="round"/><circle cx="4" cy="4" r="2.9" fill="#12d4ff"/><circle cx="3.3" cy="3.2" r="1" fill="#7be9ff"/></svg>
<div style="left:922.55px;top:299.25px;width:17.50px;height:9.80px;background:#585858;border-radius:1.3px;"></div>
<svg style="left:928.30px;top:300.45px;" width="6.00" height="7.40" viewBox="0 0 6 7.4"><g opacity="1"><rect x="0.3" y="0.7" width="5.4" height="6.5" rx="0.6" fill="#c39a64"/><rect x="0.9" y="1.5" width="4.2" height="5.2" fill="#fdf6e6"/><rect x="1.9" y="0.1" width="2.2" height="1.6" rx="0.5" fill="#9aa4b0"/><rect x="1.8" y="2.9" width="2.4" height="0.7" fill="#c9cfe0"/></g></svg>
<div style="left:946.25px;top:299.25px;width:17.80px;height:9.80px;background:#585858;border-radius:1.3px;"></div>
<svg style="left:951.15px;top:300.55px;" width="8.00" height="6.80" viewBox="0 0 8 6.8"><g fill="none" stroke="#10e3a2" stroke-width="1.25" stroke-linejoin="round"><path d="M2.35 3.6 L4 0.9 L5.65 3.6"/><path d="M6.2 4.5 L7.1 6 L4.55 6"/><path d="M3.45 6 L0.9 6 L1.8 4.5"/></g></svg>
<div style="left:970.05px;top:299.25px;width:14.50px;height:9.80px;background:#585858;border-radius:1.3px;"></div>
<svg style="left:974.30px;top:301.15px;" width="6.00" height="6.00" viewBox="0 0 6 6"><path d="M3 5.7 L3 0.8 M1.2 2.6 L3 0.7 L4.8 2.6" stroke="#e8e8e8" stroke-width="0.75" fill="none" stroke-linejoin="round"/></svg>
<div style="left:990.45px;top:299.25px;width:14.50px;height:9.80px;background:#404346;border-radius:1.3px;"></div>
<svg style="left:994.70px;top:301.15px;" width="6.00" height="6.00" viewBox="0 0 6 6"><path d="M3 0.3 L3 5.2 M1.2 3.4 L3 5.3 L4.8 3.4" stroke="#77797c" stroke-width="0.75" fill="none" stroke-linejoin="round"/></svg>
<div style="left:1011.25px;top:299.25px;width:17.50px;height:9.80px;background:#585858;border-radius:1.3px;"></div>
<div style="left:1016.50px;top:303.45px;width:7.00px;height:1.40px;background:#bcabf0;border-radius:0.4px;"></div>
<div class="t" style="left:836.00px;top:314px;font-size:5.8px;line-height:10px;height:10px;color:#c6c6c6;transform:scaleX(1.0277);transform-origin:0 0;">Debug/Value/String</div>
<div class="t" style="left:836.00px;top:320px;font-size:5.8px;line-height:10px;height:10px;color:#c6c6c6;transform:scaleX(0.9683);transform-origin:0 0;">Log a value.</div>
<div class="t" style="left:828.25px;top:334px;font-size:7.2px;line-height:13px;height:13px;color:#e8e8e8;font-weight:bold;transform:scaleX(0.9701);transform-origin:0 0;">Value</div>
<div style="left:835.50px;top:352.00px;width:190.50px;height:116.50px;background:#25272a;border-radius:3px;"></div>
<div class="t" style="left:840.75px;top:353px;font-size:7.2px;line-height:13px;height:13px;color:#e8e8e8;font-weight:bold;transform:scaleX(0.9701);transform-origin:0 0;">Value</div>
<div class="t" style="left:842.75px;top:366px;font-size:7.3px;line-height:13px;height:13px;color:#c6c6c6;transform:scaleX(0.9684);transform-origin:0 0;">Source</div>
<div style="left:918.75px;top:367.50px;width:100.65px;height:9.40px;background:#585858;border-radius:1.5px;"></div>
<div class="t" style="left:920.95px;top:365px;font-size:7.4px;line-height:13px;height:13px;color:#e6e6e6;transform:scaleX(0.9695);transform-origin:0 0;">Flow Core Process</div>
<svg style="left:1011.20px;top:370.60px;" width="4.60" height="3.20" viewBox="0 0 4.6 3.2"><path d="M0 0 L4.6 0 L2.3 3.2 Z" fill="#f0f0f0"/></svg>
<div class="t" style="left:848.25px;top:379px;font-size:7.2px;line-height:13px;height:13px;color:#e8e8e8;font-weight:bold;transform:scaleX(0.9435);transform-origin:0 0;">Blackboard</div>
<div class="t" style="left:849.90px;top:389px;font-size:7.3px;line-height:13px;height:13px;color:#c6c6c6;transform:scaleX(0.9855);transform-origin:0 0;">Scope</div>
<div style="left:926.25px;top:391.00px;width:90.65px;height:9.00px;background:#585858;border-radius:1.5px;"></div>
<div class="t" style="left:928.45px;top:389px;font-size:7.4px;line-height:13px;height:13px;color:#e6e6e6;transform:scaleX(0.9722);transform-origin:0 0;">Local</div>
<svg style="left:1008.70px;top:393.90px;" width="4.60" height="3.20" viewBox="0 0 4.6 3.2"><path d="M0 0 L4.6 0 L2.3 3.2 Z" fill="#f0f0f0"/></svg>
<div class="t" style="left:849.90px;top:401px;font-size:7.3px;line-height:13px;height:13px;color:#c6c6c6;transform:scaleX(0.9799);transform-origin:0 0;">Index</div>
<div style="left:926.25px;top:402.75px;width:90.65px;height:9.20px;background:#232323;box-shadow:inset 0 0 0 1px #1c1c1c;border-radius:2px;"></div>
<div class="t" style="left:929.00px;top:401px;font-size:7.3px;line-height:13px;height:13px;color:#e6e6e6;">0</div>
<div class="t" style="left:848.25px;top:415px;font-size:7.2px;line-height:13px;height:13px;color:#e8e8e8;font-weight:bold;transform:scaleX(0.9009);transform-origin:0 0;">Key</div>
<div class="t" style="left:849.90px;top:425px;font-size:7.3px;line-height:13px;height:13px;color:#c6c6c6;transform:scaleX(0.9460);transform-origin:0 0;">Key</div>
<div style="left:926.25px;top:426.25px;width:74.40px;height:10.00px;background:#232323;box-shadow:inset 0 0 0 1px #1c1c1c;border-radius:2px;"></div>
<div class="t" style="left:929.00px;top:425px;font-size:7.3px;line-height:13px;height:13px;color:#e6e6e6;">Log</div>
<svg style="left:0;top:0" width="1200" height="675"><polygon points="1012.75,427.90 1013.81,430.04 1016.17,430.39 1014.46,432.06 1014.87,434.41 1012.75,433.30 1010.63,434.41 1011.04,432.06 1009.33,430.39 1011.69,430.04" fill="#ffe760" stroke="#ffe760" stroke-width="0.8" stroke-linejoin="round"/></svg>
<div style="left:951.25px;top:441.25px;width:17.50px;height:9.75px;background:#585858;border-radius:1.3px;"></div>
<svg style="left:956.60px;top:442.70px;" width="7.40" height="7.40" viewBox="0 0 10 10"><path d="M5.6 5.6 L8.6 8.6" stroke="#c9a0e8" stroke-width="1.7" stroke-linecap="round"/><circle cx="4" cy="4" r="2.9" fill="#12d4ff"/><circle cx="3.3" cy="3.2" r="1" fill="#7be9ff"/></svg>
<div style="left:974.75px;top:441.25px;width:17.75px;height:9.75px;background:#585858;border-radius:1.3px;"></div>
<svg style="left:0;top:0" width="1200" height="675"><polygon points="983.60,443.00 984.57,444.97 986.74,445.28 985.17,446.81 985.54,448.97 983.60,447.95 981.66,448.97 982.03,446.81 980.46,445.28 982.63,444.97" fill="#ffe760" stroke="#ffe760" stroke-width="0.8" stroke-linejoin="round"/></svg>
<div style="left:998.75px;top:441.25px;width:17.50px;height:9.75px;background:#585858;border-radius:1.3px;"></div>
<svg style="left:1003.00px;top:441.60px;" width="9.00" height="9.00" viewBox="0 0 9 9"><path d="M1.4 7.6 L6.6 2.4" stroke="#ffb347" stroke-width="2" stroke-linecap="butt"/><path d="M6.4 2.6 L7.6 1.4" stroke="#ff7fa8" stroke-width="2" stroke-linecap="round"/><path d="M0.6 8.4 L1.9 8.0 L1.0 7.1 Z" fill="#f3d9b0"/></svg>
<div class="t" style="left:847.75px;top:455px;font-size:7.3px;line-height:13px;height:13px;color:#c6c6c6;transform:scaleX(0.9873);transform-origin:0 0;">Container</div>
<div style="left:923.75px;top:456.00px;width:95.65px;height:9.30px;background:#585858;border-radius:1.5px;"></div>
<div class="t" style="left:925.95px;top:454px;font-size:7.4px;line-height:13px;height:13px;color:#e6e6e6;transform:scaleX(0.9625);transform-origin:0 0;">Single</div>
<svg style="left:1011.20px;top:459.05px;" width="4.60" height="3.20" viewBox="0 0 4.6 3.2"><path d="M0 0 L4.6 0 L2.3 3.2 Z" fill="#f0f0f0"/></svg>
<div class="t" style="left:836.00px;top:472px;font-size:5.8px;line-height:10px;height:10px;color:#5a9a62;transform:scaleX(1.0178);transform-origin:0 0;">Value: FlowCoreProcess Local[0].Log = &quot;Hi, Flow Core&quot;</div>
<div style="left:813.60px;top:484.40px;width:220.15px;height:18.10px;background:#282c31;box-shadow:inset 0 0 0 1px #3a3f46;border-radius:3px;"></div>
<div style="left:818.00px;top:488.00px;width:210.75px;height:9.75px;background:#585858;border-radius:1.5px;"></div>
<div class="t" style="left:898.15px;top:487px;font-size:7.3px;line-height:13px;height:13px;color:#e6e6e6;transform:scaleX(1.0371);transform-origin:0 0;">Add Instruction</div>
<div style="left:805.75px;top:505.00px;width:228.00px;height:11.50px;background:#282c31;box-shadow:inset 0 0 0 1px #3a3f46;border-radius:3px;"></div>
<div class="t" style="left:808.25px;top:504px;font-size:6.6px;line-height:11px;height:11px;color:#c6c6c6;">Guard: Off | Instr: 2</div>
<div style="left:128.10px;top:503.75px;width:170.65px;height:22.50px;background:#c67a1f;border-radius:3px 3px 0 0;"></div>
<div style="left:131.00px;top:507.75px;width:14.30px;height:14.10px;background:#585858;border-radius:2px;"></div>
<svg style="left:131.00px;top:507.75px;" width="14.30" height="14.10" viewBox="0 0 14 14"><path d="M3.2 4.2 L10.8 4.2 L7 10.6 Z" fill="#fff"/></svg>
<div style="left:151.00px;top:507.75px;width:14.30px;height:14.10px;background:#585858;border-radius:2px;"></div>
<svg style="left:151.00px;top:507.75px;" width="14.30" height="14.10" viewBox="0 0 14 14"><rect x="3" y="3" width="8" height="8" rx="0.8" fill="#10e3a2"/><path d="M4.7 7.2 L6.4 8.8 L9.4 5.2" stroke="#fff" stroke-width="1.2" fill="none" stroke-linecap="round" stroke-linejoin="round"/></svg>
<svg style="left:173.50px;top:508.80px;" width="8.00" height="12.00" viewBox="0 0 8 12"><path d="M5.6 0.2 L0.5 6.7 L3.4 6.7 L2.1 11.8 L7.6 4.8 L4.5 4.8 Z" fill="#ffbb5e" stroke="#ffbb5e" stroke-width="0.5" stroke-linejoin="round"/></svg>
<div class="t" style="left:190.60px;top:509px;font-size:7.6px;line-height:13px;height:13px;color:#f4b63a;font-weight:bold;transform:scaleX(1.1119);transform-origin:0 0;">#0</div>
<div style="left:207.75px;top:507.50px;width:30.00px;height:14.50px;background:#262626;border-radius:3px;"></div>
<div class="t" style="left:210.60px;top:508px;font-size:10px;line-height:15px;height:15px;color:#f2f2f2;font-weight:bold;transform:scaleX(1.0424);transform-origin:0 0;">Start</div>
<div style="left:244.40px;top:507.75px;width:14.35px;height:14.10px;background:#9a7346;border-radius:1.3px;"></div>
<svg style="left:247.83px;top:511.05px;" width="7.50" height="7.50" viewBox="0 0 6 6"><path d="M3 5.7 L3 0.8 M1.2 2.6 L3 0.7 L4.8 2.6" stroke="#d2b083" stroke-width="0.75" fill="none" stroke-linejoin="round"/></svg>
<div style="left:262.75px;top:507.75px;width:14.50px;height:14.10px;background:#9a7346;border-radius:1.3px;"></div>
<svg style="left:266.25px;top:511.05px;" width="7.50" height="7.50" viewBox="0 0 6 6"><path d="M3 0.3 L3 5.2 M1.2 3.4 L3 5.3 L4.8 3.4" stroke="#d2b083" stroke-width="0.75" fill="none" stroke-linejoin="round"/></svg>
<div style="left:281.50px;top:507.75px;width:14.50px;height:14.10px;background:#585858;border-radius:2px;"></div>
<svg style="left:285.25px;top:511.40px;" width="7.40" height="7.40" viewBox="0 0 10 10"><path d="M5.6 5.6 L8.6 8.6" stroke="#c9a0e8" stroke-width="1.7" stroke-linecap="round"/><circle cx="4" cy="4" r="2.9" fill="#12d4ff"/><circle cx="3.3" cy="3.2" r="1" fill="#7be9ff"/></svg>
<div style="left:128.10px;top:527.00px;width:170.65px;height:28.00px;background:#282c31;box-shadow:inset 0 0 0 1px #3a3f46;border-radius:3px;"></div>
<div class="t" style="left:132.50px;top:529px;font-size:7.3px;line-height:13px;height:13px;color:#c6c6c6;transform:scaleX(0.9722);transform-origin:0 0;">On Busy Behavior</div>
<div class="t" style="left:132.50px;top:541px;font-size:7.3px;line-height:13px;height:13px;color:#c6c6c6;">Start New Chain</div>
<div style="left:208.75px;top:530.10px;width:85.65px;height:8.80px;background:#585858;border-radius:1.5px;"></div>
<div class="t" style="left:210.95px;top:528px;font-size:7.4px;line-height:13px;height:13px;color:#e6e6e6;transform:scaleX(1.0233);transform-origin:0 0;">Abort</div>
<svg style="left:286.20px;top:532.90px;" width="4.60" height="3.20" viewBox="0 0 4.6 3.2"><path d="M0 0 L4.6 0 L2.3 3.2 Z" fill="#f0f0f0"/></svg>
<div style="left:208.00px;top:543.00px;width:8.30px;height:8.30px;background:#2a2a2a;box-shadow:inset 0 0 0 1px #222;border-radius:1.5px;"></div>
<div style="left:128.10px;top:557.50px;width:170.65px;height:13.80px;background:#2b2d2f;box-shadow:inset 0 0 0 1px #3a3f46;border-radius:3px;"></div>
<div class="t" style="left:271.00px;top:558px;font-size:7.3px;line-height:13px;height:13px;color:#c6c6c6;transform:scaleX(0.9774);transform-origin:0 0;">Out</div>
<svg style="left:288.00px;top:561.55px;" width="5.30" height="5.70" viewBox="0 0 5.3 5.7"><path d="M0 0 L2.45 0 A2.85 2.85 0 0 1 2.45 5.7 L0 5.7 Z" fill="#f2b42a"/></svg>
<div style="left:128.10px;top:573.75px;width:170.65px;height:32.75px;background:#282c31;box-shadow:inset 0 0 0 1px #3a3f46;border-radius:3px;"></div>
<div class="t" style="left:132.50px;top:575px;font-size:7.3px;line-height:13px;height:13px;color:#c6c6c6;transform:scaleX(0.9460);transform-origin:0 0;">Bus</div>
<div style="left:208.75px;top:577.00px;width:85.65px;height:8.70px;background:#585858;border-radius:1.5px;"></div>
<div class="t" style="left:210.95px;top:575px;font-size:7.4px;line-height:13px;height:13px;color:#e6e6e6;transform:scaleX(0.9846);transform-origin:0 0;">Unity</div>
<svg style="left:286.20px;top:579.75px;" width="4.60" height="3.20" viewBox="0 0 4.6 3.2"><path d="M0 0 L4.6 0 L2.3 3.2 Z" fill="#f0f0f0"/></svg>
<div class="t" style="left:132.50px;top:590px;font-size:7.3px;line-height:13px;height:13px;color:#c6c6c6;">Unity Event</div>
<div style="left:211.25px;top:590.60px;width:81.00px;height:11.40px;background:#585858;border-radius:2px;"></div>
<div class="t" style="left:215.60px;top:589px;font-size:7.3px;line-height:13px;height:13px;color:#e6e6e6;transform:scaleX(1.0249);transform-origin:0 0;">Start</div>
<div style="left:128.10px;top:609.00px;width:170.65px;height:19.75px;background:#282c31;box-shadow:inset 0 0 0 1px #3a3f46;border-radius:3px;"></div>
<div class="t" style="left:131.00px;top:610px;font-size:6.6px;line-height:11px;height:11px;color:#c6c6c6;transform:scaleX(0.9725);transform-origin:0 0;">Bus: Unity</div>
<div class="t" style="left:131.00px;top:617px;font-size:6.6px;line-height:11px;height:11px;color:#c6c6c6;transform:scaleX(0.9860);transform-origin:0 0;">Event: Start</div>
<div style="left:323.75px;top:137.90px;width:59.65px;height:18.10px;background:#2c3037;border-radius:2.5px;"></div>
<div style="left:324.45px;top:140.70px;width:20.60px;height:13.10px;background:#3a3c3c;border-radius:1px;"></div>
<svg style="left:329.85px;top:144.65px;" width="5.30" height="5.70" viewBox="0 0 5.3 5.7"><path d="M0 0 L2.45 0 A2.85 2.85 0 0 1 2.45 5.7 L0 5.7 Z" fill="#e2e2e2"/></svg>
<svg style="left:348.05px;top:140.10px;" width="14.00" height="14.00" viewBox="0 0 14 14"><g transform="rotate(-40 7 7)" fill="none" stroke="#fff" stroke-width="1.7">
<rect x="0.9" y="4.1" width="7.4" height="5.8" rx="2.9"/><rect x="5.7" y="4.1" width="7.4" height="5.8" rx="2.9"/></g></svg>
<div style="left:364.95px;top:139.00px;width:17.90px;height:16.00px;background:#646464;border-radius:1px;"></div>
<div style="left:366.45px;top:141.40px;width:10.80px;height:2.00px;background:#8a8a8a;"></div>
<div style="left:366.45px;top:145.90px;width:10.80px;height:2.00px;background:#8a8a8a;"></div>
<div style="left:366.45px;top:150.20px;width:10.80px;height:2.00px;background:#8a8a8a;"></div>
<div style="left:679.80px;top:556.20px;width:59.65px;height:18.10px;background:#2c3037;border-radius:2.5px;"></div>
<div style="left:680.50px;top:559.00px;width:20.60px;height:13.10px;background:#3a3c3c;border-radius:1px;"></div>
<svg style="left:685.90px;top:562.95px;" width="5.30" height="5.70" viewBox="0 0 5.3 5.7"><path d="M0 0 L2.45 0 A2.85 2.85 0 0 1 2.45 5.7 L0 5.7 Z" fill="#e2e2e2"/></svg>
<svg style="left:704.10px;top:558.40px;" width="14.00" height="14.00" viewBox="0 0 14 14"><g transform="rotate(-40 7 7)" fill="none" stroke="#fff" stroke-width="1.7">
<rect x="0.9" y="4.1" width="7.4" height="5.8" rx="2.9"/><rect x="5.7" y="4.1" width="7.4" height="5.8" rx="2.9"/></g></svg>
<div style="left:721.00px;top:557.30px;width:17.90px;height:16.00px;background:#646464;border-radius:1px;"></div>
<div style="left:722.50px;top:559.70px;width:10.80px;height:2.00px;background:#8a8a8a;"></div>
<div style="left:722.50px;top:564.20px;width:10.80px;height:2.00px;background:#8a8a8a;"></div>
<div style="left:722.50px;top:568.50px;width:10.80px;height:2.00px;background:#8a8a8a;"></div>
<div style="left:128.40px;top:252.90px;width:59.40px;height:18.10px;background:#2c3037;border-radius:2.5px;"></div>
<div style="left:129.00px;top:254.00px;width:17.90px;height:16.00px;background:#646464;border-radius:1px;"></div>
<div style="left:130.50px;top:256.40px;width:10.80px;height:2.00px;background:#8a8a8a;"></div>
<div style="left:130.50px;top:260.90px;width:10.80px;height:2.00px;background:#8a8a8a;"></div>
<div style="left:130.50px;top:265.20px;width:10.80px;height:2.00px;background:#8a8a8a;"></div>
<svg style="left:149.90px;top:255.00px;" width="14.00" height="14.00" viewBox="0 0 14 14"><g transform="rotate(-40 7 7)" fill="none" stroke="#fff" stroke-width="1.7">
<rect x="0.9" y="4.1" width="7.4" height="5.8" rx="2.9"/><rect x="5.7" y="4.1" width="7.4" height="5.8" rx="2.9"/></g></svg>
<svg style="left:176.90px;top:259.65px;" width="5.30" height="5.70" viewBox="0 0 5.3 5.7"><path d="M0 0 L2.45 0 A2.85 2.85 0 0 1 2.45 5.7 L0 5.7 Z" fill="#e2e2e2"/></svg>
<div style="left:128.40px;top:372.30px;width:59.40px;height:18.10px;background:#2c3037;border-radius:2.5px;"></div>
<div style="left:129.00px;top:373.40px;width:17.90px;height:16.00px;background:#646464;border-radius:1px;"></div>
<div style="left:130.50px;top:375.80px;width:10.80px;height:2.00px;background:#8a8a8a;"></div>
<div style="left:130.50px;top:380.30px;width:10.80px;height:2.00px;background:#8a8a8a;"></div>
<div style="left:130.50px;top:384.60px;width:10.80px;height:2.00px;background:#8a8a8a;"></div>
<svg style="left:149.90px;top:374.40px;" width="14.00" height="14.00" viewBox="0 0 14 14"><g transform="rotate(-40 7 7)" fill="none" stroke="#fff" stroke-width="1.7">
<rect x="0.9" y="4.1" width="7.4" height="5.8" rx="2.9"/><rect x="5.7" y="4.1" width="7.4" height="5.8" rx="2.9"/></g></svg>
<svg style="left:176.90px;top:379.05px;" width="5.30" height="5.70" viewBox="0 0 5.3 5.7"><path d="M0 0 L2.45 0 A2.85 2.85 0 0 1 2.45 5.7 L0 5.7 Z" fill="#e2e2e2"/></svg>
<div style="left:483.70px;top:447.70px;width:22.40px;height:13.10px;background:#2c3037;border-radius:3px;"></div>
<div style="left:483.70px;top:447.70px;width:11.20px;height:13.10px;background:#3a3c3d;border-radius:3px 0 0 3px;"></div>
<svg style="left:486.60px;top:451.45px;" width="5.30" height="5.70" viewBox="0 0 5.3 5.7"><path d="M0 0 L2.45 0 A2.85 2.85 0 0 1 2.45 5.7 L0 5.7 Z" fill="#e2e2e2"/></svg>
<svg style="left:497.40px;top:451.45px;" width="5.30" height="5.70" viewBox="0 0 5.3 5.7"><path d="M0 0 L2.45 0 A2.85 2.85 0 0 1 2.45 5.7 L0 5.7 Z" fill="#e2e2e2"/></svg>
<div style="left:731.20px;top:447.70px;width:22.40px;height:13.10px;background:#2c3037;border-radius:3px;"></div>
<div style="left:731.20px;top:447.70px;width:11.20px;height:13.10px;background:#3a3c3d;border-radius:3px 0 0 3px;"></div>
<svg style="left:734.10px;top:451.45px;" width="5.30" height="5.70" viewBox="0 0 5.3 5.7"><path d="M0 0 L2.45 0 A2.85 2.85 0 0 1 2.45 5.7 L0 5.7 Z" fill="#e2e2e2"/></svg>
<svg style="left:744.90px;top:451.45px;" width="5.30" height="5.70" viewBox="0 0 5.3 5.7"><path d="M0 0 L2.45 0 A2.85 2.85 0 0 1 2.45 5.7 L0 5.7 Z" fill="#e2e2e2"/></svg>
<div style="left:0.00px;top:666.70px;width:1200.00px;height:1.60px;background:#181818;"></div>
<div style="left:0.00px;top:668.00px;width:1200.00px;height:1.00px;background:#909090;"></div>
<div style="left:0.00px;top:669.00px;width:1200.00px;height:6.00px;background:#fdfdfd;"></div>
<div style="left:0.00px;top:674.00px;width:1200.00px;height:1.00px;background:#f4f4f4;"></div>
<svg style="left:1021px;top:496.2px" width="180" height="180" viewBox="-90 -90 180 180">
<defs><filter id="gl1" x="-50%" y="-50%" width="200%" height="200%"><feGaussianBlur stdDeviation="8.5"/></filter>
<filter id="gl0" x="-60%" y="-60%" width="220%" height="220%"><feGaussianBlur stdDeviation="15"/></filter>
<filter id="gl2" x="-50%" y="-50%" width="200%" height="200%"><feGaussianBlur stdDeviation="4"/></filter>
<filter id="gl3" x="-50%" y="-50%" width="200%" height="200%"><feGaussianBlur stdDeviation="0.45"/></filter></defs>
<polygon points="0.0,-61.0 47.6,-30.5 47.6,30.5 0.0,61.0 -47.6,30.5 -47.6,-30.5" fill="#fff" opacity="0.30" filter="url(#gl0)"/>
<polygon points="0.0,-61.0 47.6,-30.5 47.6,30.5 0.0,61.0 -47.6,30.5 -47.6,-30.5" fill="#fff" opacity="0.34" filter="url(#gl1)"/>
<polygon points="0.0,-61.0 47.6,-30.5 47.6,30.5 0.0,61.0 -47.6,30.5 -47.6,-30.5" fill="#fff" opacity="0.08" filter="url(#gl2)"/>
<g filter="url(#gl2)" opacity="0.95"><g><g fill="none" stroke="#fff" stroke-width="2.6" stroke-linecap="round" stroke-linejoin="round">
<path d="M-29,-38.6 L-46,-28.6 Q-48,-27.4 -48,-25 L-48,-10"/>
<path d="M-12.8,-38.8 L-38,-25.6 Q-40,-24.5 -40,-22 L-40,-2"/>
<path d="M-16.4,-25.7 L-29.5,-17.2 Q-31,-16.2 -31,-14 L-31,-5"/>
<path d="M0,-55.8 L-16.4,-25.7"/>
<path d="M0,-55.8 L-14.5,-47.5"/>
<path d="M0,-55.8 L16,-47.5"/>
<path d="M-3.6,-36.5 C-5.5,-41 -3,-44.5 1.5,-42.8 L37,-23.6 Q40,-22 40,-17" stroke-width="2.9"/>
<path d="M0.5,-27 L0.5,-34"/>
<path d="M1,-35.5 L7,-32.3" stroke-width="1.6"/>
<path d="M19,-23.6 L29,-16.6 Q30.5,-15.5 30.5,-13 L30.5,-6"/>
<path d="M33.5,-36.8 L46,-28.8 Q48.6,-27 49,-24"/>
</g><g fill="#fff" stroke="none"><polygon points="-26.60,-40.00 -29.27,-35.36 -31.95,-39.82"/><polygon points="-48.00,-6.50 -50.60,-11.18 -45.40,-11.18"/><polygon points="-18.20,-45.40 -15.45,-49.99 -12.85,-45.49"/><polygon points="19.80,-45.40 14.45,-45.49 17.05,-49.99"/><polygon points="10.20,-30.60 6.08,-30.52 7.96,-34.06"/><polygon points="30.40,-38.90 35.75,-38.62 32.99,-34.22"/><path d="M47.4,-26.5 C53,-17 50,-6 39,4.5 C33.5,9.8 27.5,13.8 20,15.6 C26,11.8 31,6.5 35.6,0.5 C42.5,-8.5 46.8,-17.5 45.6,-24.5 Z"/></g></g><g transform="rotate(180)"><g fill="none" stroke="#fff" stroke-width="2.6" stroke-linecap="round" stroke-linejoin="round">
<path d="M-29,-38.6 L-46,-28.6 Q-48,-27.4 -48,-25 L-48,-10"/>
<path d="M-12.8,-38.8 L-38,-25.6 Q-40,-24.5 -40,-22 L-40,-2"/>
<path d="M-16.4,-25.7 L-29.5,-17.2 Q-31,-16.2 -31,-14 L-31,-5"/>
<path d="M0,-55.8 L-16.4,-25.7"/>
<path d="M0,-55.8 L-14.5,-47.5"/>
<path d="M0,-55.8 L16,-47.5"/>
<path d="M-3.6,-36.5 C-5.5,-41 -3,-44.5 1.5,-42.8 L37,-23.6 Q40,-22 40,-17" stroke-width="2.9"/>
<path d="M0.5,-27 L0.5,-34"/>
<path d="M1,-35.5 L7,-32.3" stroke-width="1.6"/>
<path d="M19,-23.6 L29,-16.6 Q30.5,-15.5 30.5,-13 L30.5,-6"/>
<path d="M33.5,-36.8 L46,-28.8 Q48.6,-27 49,-24"/>
</g><g fill="#fff" stroke="none"><polygon points="-26.60,-40.00 -29.27,-35.36 -31.95,-39.82"/><polygon points="-48.00,-6.50 -50.60,-11.18 -45.40,-11.18"/><polygon points="-18.20,-45.40 -15.45,-49.99 -12.85,-45.49"/><polygon points="19.80,-45.40 14.45,-45.49 17.05,-49.99"/><polygon points="10.20,-30.60 6.08,-30.52 7.96,-34.06"/><polygon points="30.40,-38.90 35.75,-38.62 32.99,-34.22"/><path d="M47.4,-26.5 C53,-17 50,-6 39,4.5 C33.5,9.8 27.5,13.8 20,15.6 C26,11.8 31,6.5 35.6,0.5 C42.5,-8.5 46.8,-17.5 45.6,-24.5 Z"/></g></g><circle cx="0.2" cy="-55.8" r="4.3" fill="#fff"/><circle cx="-49" cy="0.3" r="4.4" fill="#fff"/><circle cx="49" cy="0.3" r="4.4" fill="#fff"/><circle cx="-24.7" cy="41.8" r="4.1" fill="#fff"/><circle cx="24.6" cy="41.8" r="4.1" fill="#fff"/><circle cx="-16.4" cy="-25.7" r="4.0" fill="#fff"/><circle cx="-16.4" cy="26.8" r="4.0" fill="#fff"/><circle cx="0.2" cy="21" r="4.1" fill="#fff"/><circle cx="-24.7" cy="-42" r="3.1" fill="#777" stroke="#fff" stroke-width="2.1"/><circle cx="24.6" cy="-41.8" r="3.1" fill="#777" stroke="#fff" stroke-width="2.1"/><circle cx="0.2" cy="-23.6" r="2.7" fill="#777" stroke="#fff" stroke-width="2.1"/><circle cx="16.3" cy="-25.7" r="2.9" fill="#777" stroke="#fff" stroke-width="2.1"/><circle cx="16.3" cy="26.2" r="2.7" fill="#777" stroke="#fff" stroke-width="2.1"/><path d="M-22.6,15.3 L-22.2,-14.2 L2.6,-14.2 L1.7,-7.8 L-15.6,-7.8 L-15.6,-1.2 L-3,-1.2 L-3.8,4 L-15.6,4 L-15.6,15.3 Z" fill="#fff"/>
<path d="M24.05,-13.05 A15.5 15.5 0 1 0 27.46,12.87 L26.9,8.3 A10.8 10.8 0 1 1 25,-9.6 Z" fill="#fff"/>
<path d="M20,-13.8 C25,-13.5 28.5,-11 27,-7.2 L24.2,-8.2 C24.8,-10 23,-11.2 20,-11.2 Z" fill="#fff"/></g>
<g filter="url(#gl3)"><g><g fill="none" stroke="#fff" stroke-width="2.6" stroke-linecap="round" stroke-linejoin="round">
<path d="M-29,-38.6 L-46,-28.6 Q-48,-27.4 -48,-25 L-48,-10"/>
<path d="M-12.8,-38.8 L-38,-25.6 Q-40,-24.5 -40,-22 L-40,-2"/>
<path d="M-16.4,-25.7 L-29.5,-17.2 Q-31,-16.2 -31,-14 L-31,-5"/>
<path d="M0,-55.8 L-16.4,-25.7"/>
<path d="M0,-55.8 L-14.5,-47.5"/>
<path d="M0,-55.8 L16,-47.5"/>
<path d="M-3.6,-36.5 C-5.5,-41 -3,-44.5 1.5,-42.8 L37,-23.6 Q40,-22 40,-17" stroke-width="2.9"/>
<path d="M0.5,-27 L0.5,-34"/>
<path d="M1,-35.5 L7,-32.3" stroke-width="1.6"/>
<path d="M19,-23.6 L29,-16.6 Q30.5,-15.5 30.5,-13 L30.5,-6"/>
<path d="M33.5,-36.8 L46,-28.8 Q48.6,-27 49,-24"/>
</g><g fill="#fff" stroke="none"><polygon points="-26.60,-40.00 -29.27,-35.36 -31.95,-39.82"/><polygon points="-48.00,-6.50 -50.60,-11.18 -45.40,-11.18"/><polygon points="-18.20,-45.40 -15.45,-49.99 -12.85,-45.49"/><polygon points="19.80,-45.40 14.45,-45.49 17.05,-49.99"/><polygon points="10.20,-30.60 6.08,-30.52 7.96,-34.06"/><polygon points="30.40,-38.90 35.75,-38.62 32.99,-34.22"/><path d="M47.4,-26.5 C53,-17 50,-6 39,4.5 C33.5,9.8 27.5,13.8 20,15.6 C26,11.8 31,6.5 35.6,0.5 C42.5,-8.5 46.8,-17.5 45.6,-24.5 Z"/></g></g><g transform="rotate(180)"><g fill="none" stroke="#fff" stroke-width="2.6" stroke-linecap="round" stroke-linejoin="round">
<path d="M-29,-38.6 L-46,-28.6 Q-48,-27.4 -48,-25 L-48,-10"/>
<path d="M-12.8,-38.8 L-38,-25.6 Q-40,-24.5 -40,-22 L-40,-2"/>
<path d="M-16.4,-25.7 L-29.5,-17.2 Q-31,-16.2 -31,-14 L-31,-5"/>
<path d="M0,-55.8 L-16.4,-25.7"/>
<path d="M0,-55.8 L-14.5,-47.5"/>
<path d="M0,-55.8 L16,-47.5"/>
<path d="M-3.6,-36.5 C-5.5,-41 -3,-44.5 1.5,-42.8 L37,-23.6 Q40,-22 40,-17" stroke-width="2.9"/>
<path d="M0.5,-27 L0.5,-34"/>
<path d="M1,-35.5 L7,-32.3" stroke-width="1.6"/>
<path d="M19,-23.6 L29,-16.6 Q30.5,-15.5 30.5,-13 L30.5,-6"/>
<path d="M33.5,-36.8 L46,-28.8 Q48.6,-27 49,-24"/>
</g><g fill="#fff" stroke="none"><polygon points="-26.60,-40.00 -29.27,-35.36 -31.95,-39.82"/><polygon points="-48.00,-6.50 -50.60,-11.18 -45.40,-11.18"/><polygon points="-18.20,-45.40 -15.45,-49.99 -12.85,-45.49"/><polygon points="19.80,-45.40 14.45,-45.49 17.05,-49.99"/><polygon points="10.20,-30.60 6.08,-30.52 7.96,-34.06"/><polygon points="30.40,-38.90 35.75,-38.62 32.99,-34.22"/><path d="M47.4,-26.5 C53,-17 50,-6 39,4.5 C33.5,9.8 27.5,13.8 20,15.6 C26,11.8 31,6.5 35.6,0.5 C42.5,-8.5 46.8,-17.5 45.6,-24.5 Z"/></g></g><circle cx="0.2" cy="-55.8" r="4.3" fill="#fff"/><circle cx="-49" cy="0.3" r="4.4" fill="#fff"/><circle cx="49" cy="0.3" r="4.4" fill="#fff"/><circle cx="-24.7" cy="41.8" r="4.1" fill="#fff"/><circle cx="24.6" cy="41.8" r="4.1" fill="#fff"/><circle cx="-16.4" cy="-25.7" r="4.0" fill="#fff"/><circle cx="-16.4" cy="26.8" r="4.0" fill="#fff"/><circle cx="0.2" cy="21" r="4.1" fill="#fff"/><circle cx="-24.7" cy="-42" r="3.1" fill="#777" stroke="#fff" stroke-width="2.1"/><circle cx="24.6" cy="-41.8" r="3.1" fill="#777" stroke="#fff" stroke-width="2.1"/><circle cx="0.2" cy="-23.6" r="2.7" fill="#777" stroke="#fff" stroke-width="2.1"/><circle cx="16.3" cy="-25.7" r="2.9" fill="#777" stroke="#fff" stroke-width="2.1"/><circle cx="16.3" cy="26.2" r="2.7" fill="#777" stroke="#fff" stroke-width="2.1"/><path d="M-22.6,15.3 L-22.2,-14.2 L2.6,-14.2 L1.7,-7.8 L-15.6,-7.8 L-15.6,-1.2 L-3,-1.2 L-3.8,4 L-15.6,4 L-15.6,15.3 Z" fill="#fff"/>
<path d="M24.05,-13.05 A15.5 15.5 0 1 0 27.46,12.87 L26.9,8.3 A10.8 10.8 0 1 1 25,-9.6 Z" fill="#fff"/>
<path d="M20,-13.8 C25,-13.5 28.5,-11 27,-7.2 L24.2,-8.2 C24.8,-10 23,-11.2 20,-11.2 Z" fill="#fff"/></g>
</svg>
</div></body></html>
